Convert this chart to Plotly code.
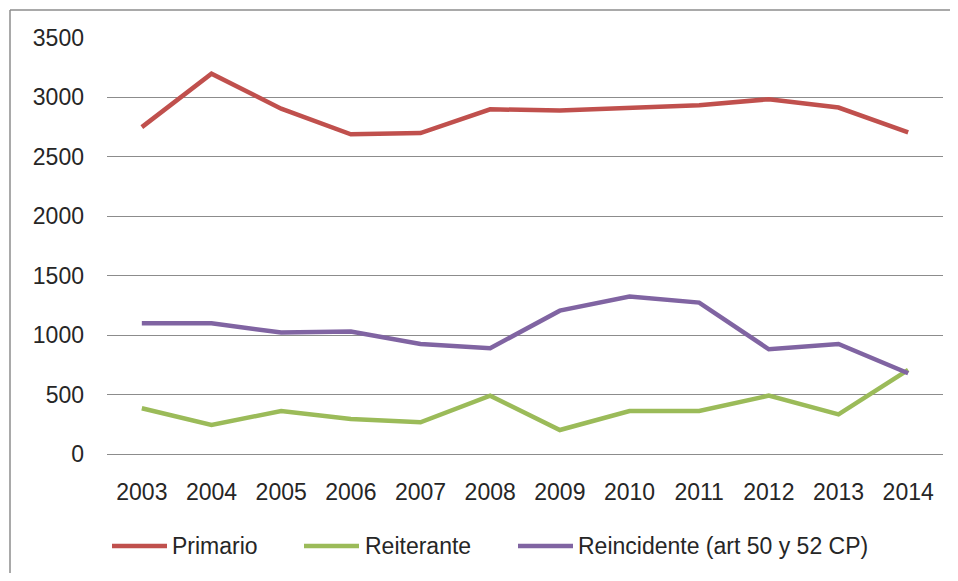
import plotly.graph_objects as go

years = ["2003", "2004", "2005", "2006", "2007", "2008", "2009", "2010", "2011", "2012", "2013", "2014"]
primario = [2750, 3200, 2905, 2690, 2700, 2900, 2890, 2912, 2935, 2985, 2915, 2705]
reiterante = [385, 244, 362, 295, 267, 491, 202, 362, 362, 491, 334, 707]
reincidente = [1100, 1100, 1022, 1030, 926, 890, 1206, 1324, 1274, 881, 926, 679]

names = ["Primario", "Reiterante", "Reincidente (art 50 y 52 CP)"]
colors = ["#C0504D", "#9BBB59", "#8064A2"]
series = [primario, reiterante, reincidente]

# page body has an 8px margin; work in window pixels and convert
OFF = 8
W, H = 958 - 2 * OFF, 581 - 2 * OFF
plot_x0, plot_x1 = 107, 943   # window px
plot_y0, plot_y1 = 38, 454    # window px
L = plot_x0 - OFF
T = plot_y0 - OFF
R = W - (plot_x1 - OFF)
B = H - (plot_y1 - OFF)
pw, ph = plot_x1 - plot_x0, plot_y1 - plot_y0

def px_x(px):
    return (px - plot_x0) / pw

def px_y(py):
    return (plot_y1 - py) / ph

fig = go.Figure()
for n, c, s in zip(names, colors, series):
    fig.add_trace(go.Scatter(x=years, y=s, mode="lines", name=n,
                             line=dict(color=c, width=4.5), showlegend=False))

font = dict(family="Liberation Sans, Arial, sans-serif", size=23, color="#262626")

shapes = []
annotations = []
# manual legend
leg_y = px_y(546)
leg_items = [(112, 167, 171), (304, 359, 364), (518, 573, 577)]
for (x0, x1, tx), n, c in zip(leg_items, names, colors):
    shapes.append(dict(type="line", xref="paper", yref="paper",
                       x0=px_x(x0), x1=px_x(x1), y0=leg_y, y1=leg_y,
                       line=dict(color=c, width=4.5)))
    annotations.append(dict(xref="paper", yref="paper", x=px_x(tx), y=leg_y,
                            xanchor="left", yanchor="middle", text=n,
                            showarrow=False, font=font, borderpad=0))
# chart frame (top and left edges visible)
shapes.append(dict(type="line", xref="paper", yref="paper",
                   x0=px_x(10), x1=px_x(960), y0=px_y(10), y1=px_y(10),
                   line=dict(color="#8c8c8c", width=1.5)))
shapes.append(dict(type="line", xref="paper", yref="paper",
                   x0=px_x(10), x1=px_x(10), y0=px_y(10), y1=px_y(590),
                   line=dict(color="#8c8c8c", width=1.5)))

fig.update_layout(
    width=W, height=H,
    margin=dict(l=L, r=R, t=T, b=B, pad=0),
    paper_bgcolor="white", plot_bgcolor="white",
    font=font,
    showlegend=False,
    shapes=shapes,
    annotations=annotations,
    xaxis=dict(type="category", range=[-0.5, 11.5], showgrid=False,
               showline=False, zeroline=False, ticks="",
               ticklabelstandoff=22, tickfont=font),
    yaxis=dict(range=[0, 3500], dtick=500, tick0=0, showgrid=True,
               gridcolor="#8c8c8c", gridwidth=1, zeroline=True,
               zerolinecolor="#8c8c8c", zerolinewidth=1, showline=False,
               ticks="", ticklabelstandoff=22, tickfont=font),
)

fig.write_html("out.html")
